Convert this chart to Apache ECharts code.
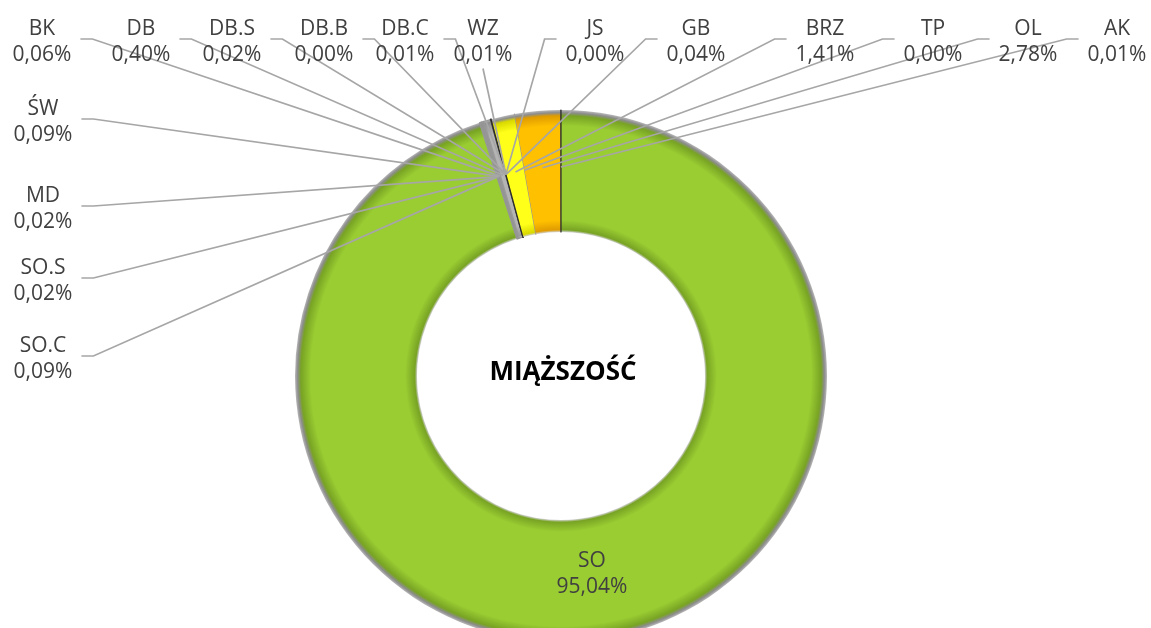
<!DOCTYPE html>
<html><head><meta charset="utf-8">
<script src="https://cdn.jsdelivr.net/npm/echarts@6/dist/echarts.min.js"></script>
<style>html,body{margin:0;padding:0;background:#fff}#c{width:1151px;height:628px}</style>
</head><body><div id="c"></div>
<script>
// ---- data ----
var categories = ['SO','SO.C','SO.S','MD','ŚW','BK','DB','DB.S','DB.B','DB.C','WZ','JS','GB','BRZ','TP','OL','AK'];
var shares     = [95.04, 0.09, 0.02, 0.02, 0.09, 0.06, 0.40, 0.02, 0.00, 0.01, 0.01, 0.00, 0.04, 1.41, 0.00, 2.78, 0.01];
var centerTitle = 'MIĄŻSZOŚĆ';

// ---- layout / style (kept apart from data) ----
var CX = 561, CY = 376, R_IN = 144, R_OUT = 266, ANCHOR_R = 209, TEXT_DY = 3;
var FONT = '"Open Sans", "DejaVu Sans", sans-serif';
var sliceColor = {
  'SO':['#9acd32','#78a324'], 'SO.C':['#a6a6a6','#959595'], 'SO.S':['#a6a6a6','#959595'], 'MD':['#a6a6a6','#959595'],
  'ŚW':['#a6a6a6','#959595'], 'BK':['#a6a6a6','#959595'], 'DB':['#b4b4b4','#9a9a9a'], 'DB.S':['#8a8a8a','#777'],
  'DB.B':['#8a8a8a','#777'], 'DB.C':['#6a6a6a','#555'], 'WZ':['#6a6a6a','#555'], 'JS':['#4a4a4a','#333'],
  'GB':['#3f3f3f','#2a2a2a'], 'BRZ':['#ffff1a','#d9d900'], 'TP':['#a6a6a6','#959595'], 'OL':['#ffc000','#e09c00'], 'AK':['#404040','#2a2a2a']
};
var thinBorder = {'SO':0,'BRZ':0,'OL':0};
// label centre and side where the leader line leaves the label
var labelPlace = {
  'SO':[592,571,'none'],
  'SO.C':[43,356,'right'], 'SO.S':[43,278,'right'], 'MD':[43,206,'right'], 'ŚW':[43,119,'right'],
  'BK':[42,39,'right'], 'DB':[141,39,'right'], 'DB.S':[232,39,'right'], 'DB.B':[324,39,'right'], 'DB.C':[405,39,'right'],
  'WZ':[483,39,'bottom'],
  'JS':[595,39,'left'], 'GB':[696,39,'left'], 'BRZ':[825,39,'left'], 'TP':[933,39,'left'], 'OL':[1028,39,'left'], 'AK':[1117,39,'left']
};

function bevel(base, dark) {
  var a = R_IN / R_OUT;
  return { type:'radial', x: CX, y: CY, r: R_OUT, global: true, colorStops: [
    {offset:0, color:'#d0d0d0'}, {offset:a, color:'#d0d0d0'}, {offset:a+0.008, color:dark},
    {offset:a+0.045, color:base}, {offset:0.94, color:base}, {offset:0.978, color:dark},
    {offset:0.99, color:'#8c8c8c'}, {offset:1, color:'#b8b8b8'} ]};
}

var ringData = categories.map(function (name, i) {
  var c = sliceColor[name];
  return { name: name, value: shares[i],
    itemStyle: { color: bevel(c[0], c[1]), borderColor: c[1], borderWidth: thinBorder[name] === 0 ? 0 : 1.2 } };
});
var labelData = categories.map(function (name, i) {
  var item = { name: name, value: shares[i] };
  if (labelPlace[name][2] === 'none') {
    item.label = { position: 'inside' };
    item.labelLine = { show: false };
  }
  return item;
});

// point in the middle of a slice (clockwise from 12 o'clock), where its leader line ends
function sliceAnchor(i) {
  var total = 0, before = 0;
  shares.forEach(function (v, k) { total += v; if (k < i) before += v; });
  var f = (before + shares[i] / 2) / total * Math.PI * 2;
  return [CX + Math.sin(f) * ANCHOR_R, CY - Math.cos(f) * ANCHOR_R];
}

var chart = echarts.init(document.getElementById('c'));
chart.setOption({
  animation: false,
  backgroundColor: '#ffffff',
  graphic: [{ type:'text', x: 563, y: 373, z: 10,
    style: { text: centerTitle, fill:'#000000', font: 'bold 26px ' + FONT, align:'center', verticalAlign:'middle' } }],
  series: [{
    type: 'pie', z: 2, silent: true,
    center: [CX, CY], radius: [R_IN, R_OUT], startAngle: 90, clockwise: true,
    data: ringData,
    label: { show: false }, labelLine: { show: false },
    emphasis: { disabled: true }
  }, {
    type: 'pie', z: 5, silent: true,
    center: [CX, CY], radius: [R_IN, R_OUT], startAngle: 90, clockwise: true,
    avoidLabelOverlap: false,
    data: labelData,
    itemStyle: { color: 'rgba(0,0,0,0)', borderWidth: 0 },
    label: {
      show: true, position: 'outside', color: '#404040', fontFamily: FONT, fontSize: 21, lineHeight: 26.5, align: 'center',
      formatter: function (p) { return p.name + '\n' + p.value.toFixed(2).replace('.', ',') + '%'; }
    },
    labelLine: { show: true, length: 10, length2: 10, smooth: false, lineStyle: { color: '#a6a6a6', width: 1.7 } },
    emphasis: { disabled: true },
    labelLayout: function (params) {
      var i = params.dataIndex, name = categories[i], pl = labelPlace[name];
      var res = { x: pl[0], y: pl[1] + TEXT_DY, align: 'center', verticalAlign: 'middle' };
      if (pl[2] === 'none') return res;
      var w = params.labelRect.width, h = params.labelRect.height, attach, bend;
      if (pl[2] === 'right') { attach = [pl[0] + w/2 + 9, pl[1]]; bend = [attach[0] + 12, pl[1]]; }
      else if (pl[2] === 'left') { attach = [pl[0] - w/2 - 9, pl[1]]; bend = [attach[0] - 12, pl[1]]; }
      else { attach = [pl[0], pl[1] + h/2 + 3]; bend = [pl[0], pl[1] + h/2 + 3]; }
      res.labelLinePoints = [sliceAnchor(i), bend, attach];
      return res;
    }
  }]
});
</script></body></html>
